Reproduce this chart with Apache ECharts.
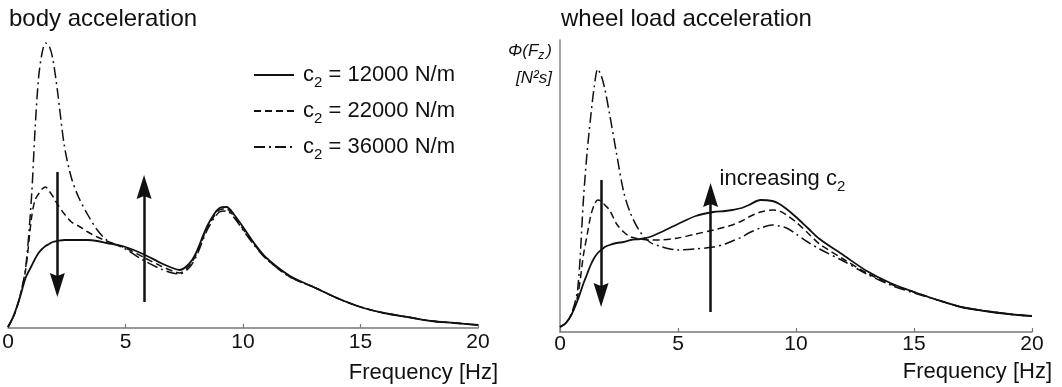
<!DOCTYPE html>
<html><head><meta charset="utf-8">
<script src="https://cdn.jsdelivr.net/npm/echarts@6/dist/echarts.min.js"></script>
<style>html,body{margin:0;padding:0;background:#fff}#c{width:1062px;height:387px}</style>
</head><body><div id="c"></div>
<script>
// Frequency grid [Hz]
const freq = [0, 0.25, 0.5, 0.75, 1.0, 1.15, 1.3, 1.45, 1.6, 1.75, 1.9, 2.1, 2.4, 2.7, 3.0, 3.4, 3.8, 4.2, 5, 5.75, 6.5, 7, 7.3, 7.7, 8, 8.5, 9, 9.3, 9.6, 10, 10.5, 11, 12, 13, 14, 15, 16, 17, 18, 19, 20];
const seriesNames = ['c2 = 12000 N/m', 'c2 = 22000 N/m', 'c2 = 36000 N/m'];
// body acceleration PSD (arbitrary units)
const bodyC12 = [1, 13, 30, 50, 62, 69, 75, 79, 82, 84, 86, 87, 88, 88, 88, 88, 87, 85, 81, 74, 65, 60, 58, 64, 75, 103, 120, 121, 114, 101, 84, 70, 52, 41, 30, 21, 15, 11, 7, 5, 3];
const bodyC22 = [1, 12, 31, 58, 110, 128, 134, 139, 141, 137, 132, 124, 114, 106, 102, 96, 91, 87, 80, 71, 62, 57, 55, 62, 73, 101, 118, 119, 112, 99, 83, 69, 51, 41, 30, 21, 15, 11, 7, 5, 3];
const bodyC36 = [1, 12, 31, 60, 131, 198, 250, 275, 285, 282, 270, 238, 182, 150, 131, 113, 98, 88, 79, 68, 59, 55, 54, 60, 71, 99, 116, 117, 111, 98, 82, 69, 51, 41, 30, 21, 15, 11, 7, 5, 3];
// wheel load acceleration PSD (arbitrary units)
const wheelC12 = [5, 9, 18, 32, 49, 58, 67, 74, 79, 82, 85, 87, 89, 90, 92, 93, 95, 99, 108, 116, 120, 121, 122, 124, 127, 132, 131, 128, 123, 115, 104, 93, 77, 61, 49, 40, 32, 25, 21, 18, 16];
const wheelC22 = [5, 9, 18, 36, 78, 97, 116, 127, 132, 131, 127, 122, 108, 100, 95, 93, 92, 92, 94, 98, 102, 105, 107, 111, 115, 120, 122, 121, 117, 110, 99, 88, 73, 59, 48, 40, 32, 25, 21, 18, 16];
const wheelC36 = [5, 9, 19, 43, 135, 180, 215, 245, 263, 256, 243, 218, 178, 140, 118, 100, 90, 86, 82, 83, 85, 88, 91, 95, 99, 104, 107, 106, 104, 98, 90, 83, 71, 58, 47, 39, 32, 25, 21, 18, 16];
const xTicks = [0, 5, 10, 15, 20];
// annotation arrows: [frequency, tail value, tip value]
const bodyArrows = [[2.1, 156, 31], [5.79, 26, 153]];
const wheelArrows = [[1.74, 152, 25], [6.38, 20, 149]];
const noteAt = [6.38, 149];

const FONT = '"Liberation Sans", Arial, Helvetica, sans-serif';
const INK = '#111';
const HEAD = 24;
const styles = [
  {type: 'solid', width: 1.8},
  {type: [7, 4], width: 1.5},
  {type: [11, 4, 2, 4], width: 1.5}
];
const subRich = {
  a: {fontSize: 22, lineHeight: 22, color: INK, fontFamily: FONT},
  s: {fontSize: 15, lineHeight: 15, padding: [15, 0, 0, 0], color: INK, fontFamily: FONT}
};
function pairs(arr) { return freq.map((f, i) => [f, arr[i]]); }
function headCenter(a) { return a[2] + (a[2] > a[1] ? -HEAD / 2 : HEAD / 2); }
function mkSeries(i, arr, axis) {
  return {
    name: seriesNames[i], type: 'line', xAxisIndex: axis, yAxisIndex: axis,
    data: pairs(arr), symbol: 'none', showSymbol: false, smooth: 0.3,
    lineStyle: {color: INK, width: styles[i].width, type: styles[i].type},
    itemStyle: {color: INK}, z: 3 - i
  };
}
function shafts(arrows) {
  return {
    silent: true, animation: false, symbol: ['none', 'none'],
    lineStyle: {type: 'solid', width: 2.5, color: INK}, label: {show: false},
    data: arrows.map(a => [{coord: [a[0], a[1]]}, {coord: [a[0], headCenter(a)]}])
  };
}
function heads(arrows, axis) {
  return {
    type: 'scatter', xAxisIndex: axis, yAxisIndex: axis, silent: true, z: 5,
    symbol: 'path://M0,0 L8,24 L0,21 L-8,24 Z', symbolSize: [15, HEAD], symbolKeepAspect: false,
    itemStyle: {color: INK, opacity: 1},
    data: arrows.map(a => ({value: [a[0], headCenter(a)], symbolRotate: a[2] > a[1] ? 0 : 180}))
  };
}
function xAxisCfg(grid, margin) {
  return {
    gridIndex: grid, type: 'value', min: xTicks[0], max: xTicks[xTicks.length - 1], interval: 5,
    axisLine: {lineStyle: {color: '#777', width: 1.5}},
    axisTick: {inside: true, length: 4, lineStyle: {color: '#777', width: 1.2}},
    axisLabel: {fontSize: 21, color: INK, margin: margin, fontFamily: FONT},
    splitLine: {show: false}
  };
}
const titleStyle = {fontSize: 24, fontWeight: 'normal', color: INK, fontFamily: FONT};
const nameStyle = {fontSize: 22, fontWeight: 'normal', color: INK, fontFamily: FONT};

const s0 = mkSeries(0, bodyC12, 0);
s0.markLine = shafts(bodyArrows);
const s3 = mkSeries(0, wheelC12, 1);
s3.markLine = shafts(wheelArrows);
s3.markPoint = {
  silent: true, animation: false, symbol: 'circle', symbolSize: 0,
  data: [{coord: noteAt}],
  label: {
    show: true, position: 'right', distance: 9, offset: [0, -4],
    formatter: '{a|increasing c}{s|2}', rich: subRich
  }
};

const option = {
  animation: false,
  backgroundColor: '#fff',
  textStyle: {fontFamily: FONT},
  title: [
    {text: 'body acceleration', left: 9, top: 7, padding: 0, textStyle: titleStyle},
    {text: 'wheel load acceleration', left: 561, top: 7, padding: 0, textStyle: titleStyle},
    {text: 'Frequency [Hz]', right: 564, top: 362, padding: 0, textStyle: nameStyle},
    {text: 'Frequency [Hz]', right: 10, top: 361, padding: 0, textStyle: nameStyle}
  ],
  legend: {
    data: seriesNames, orient: 'vertical', left: 253, top: 60, padding: 0,
    itemWidth: 40, itemHeight: 14, itemGap: 6, selectedMode: false,
    itemStyle: {opacity: 0, borderWidth: 0},
    formatter: n => '{a|c}{s|2}{a|' + n.slice(2) + '}',
    textStyle: {padding: [0, 0, 0, 4], rich: subRich}
  },
  grid: [
    {left: 8, right: 584, top: 28, bottom: 59, outerBoundsMode: 'none', containLabel: false},
    {left: 560, right: 30, top: 40, bottom: 55, outerBoundsMode: 'none', containLabel: false}
  ],
  xAxis: [xAxisCfg(0, 4), xAxisCfg(1, 2)],
  yAxis: [
    {gridIndex: 0, type: 'value', min: 0, max: 300, show: false},
    {gridIndex: 1, type: 'value', min: 0, max: 292,
     axisLine: {show: true, lineStyle: {color: '#888', width: 1.5}},
     axisTick: {show: false}, axisLabel: {show: false}, splitLine: {show: false},
     name: '{i|\u03A6(F}{sub|z}{i|)}\n{i|[N\u00B2s]}',
     nameLocation: 'end', nameGap: -25,
     nameTextStyle: {
       align: 'right', verticalAlign: 'middle', padding: [0, 8, 0, 0],
       rich: {
         i: {fontSize: 17, lineHeight: 27, fontStyle: 'italic', color: INK, fontFamily: FONT},
         sub: {fontSize: 12, lineHeight: 12, padding: [9, 2, 0, 0], fontStyle: 'italic', color: INK, fontFamily: FONT}
       }
     }}
  ],
  series: [
    s0, mkSeries(1, bodyC22, 0), mkSeries(2, bodyC36, 0),
    s3, mkSeries(1, wheelC22, 1), mkSeries(2, wheelC36, 1),
    heads(bodyArrows, 0), heads(wheelArrows, 1)
  ]
};
const chart = echarts.init(document.getElementById('c'), null, {renderer: 'canvas'});
chart.setOption(option);
</script>
</body></html>
